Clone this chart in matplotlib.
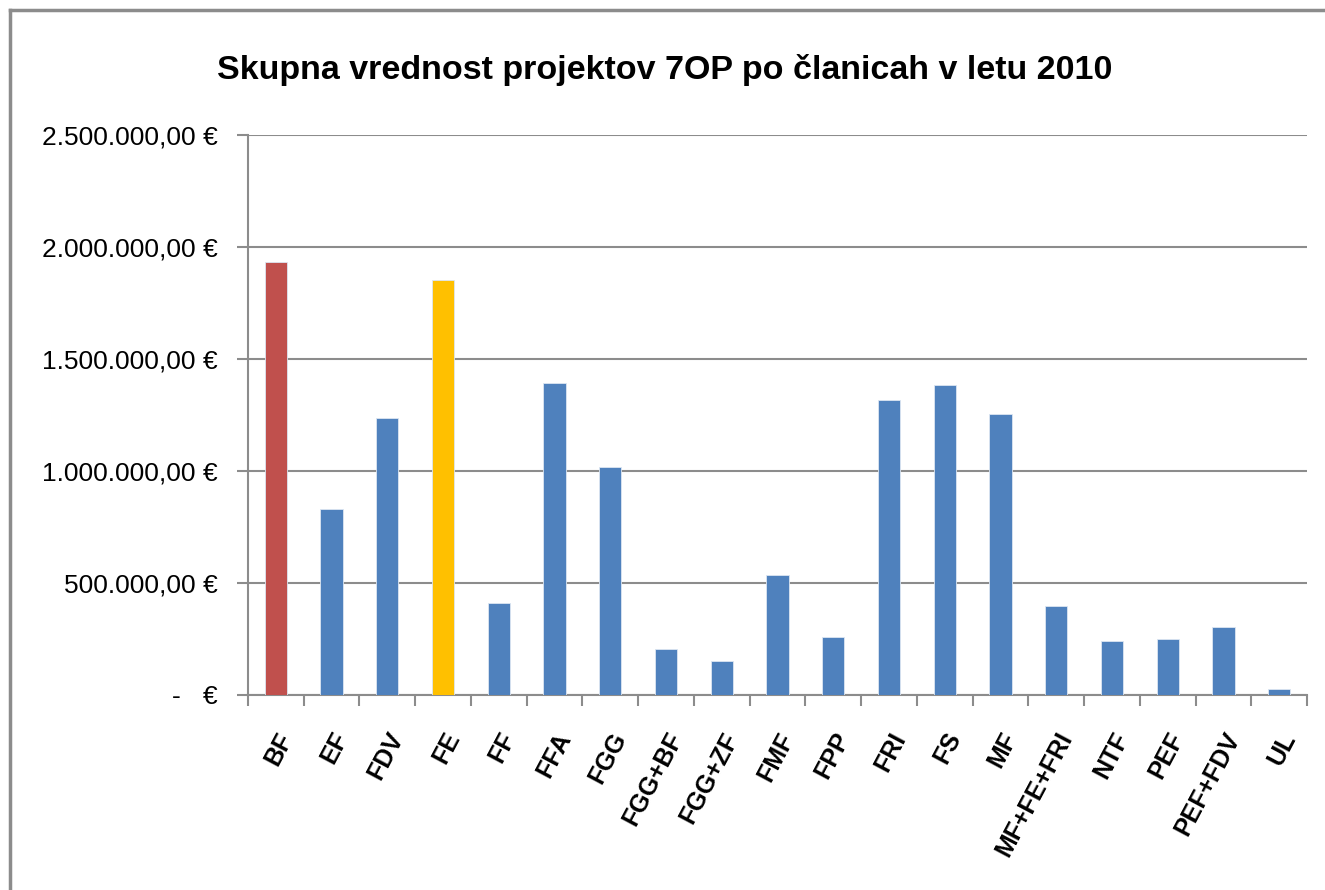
import matplotlib
matplotlib.use("Agg")
import matplotlib.pyplot as plt
from matplotlib.lines import Line2D
from matplotlib.ticker import FixedLocator, FuncFormatter

# values in EUR
clanice = ["BF", "EF", "FDV", "FE", "FF", "FFA", "FGG", "FGG+BF", "FGG+ZF", "FMF",
           "FPP", "FRI", "FS", "MF", "MF+FE+FRI", "NTF", "PEF", "PEF+FDV", "UL"]
vrednosti = [1933000, 830000, 1237000, 1853000, 411000, 1393000, 1018000, 204000, 153000,
             536000, 260000, 1318000, 1385000, 1256000, 397000, 240000, 249000, 304000, 25000]
poudarki = {"BF": "#C0504D", "FE": "#FFC000"}
osnovna_barva = "#4F81BD"
y_ticks = [0, 500000, 1000000, 1500000, 2000000, 2500000]

plt.rcParams["font.family"] = ["Liberation Sans", "DejaVu Sans"]

W, H = 1325, 890
fig = plt.figure(figsize=(W / 100, H / 100), dpi=100)
ax = fig.add_axes([248 / W, (H - 695) / H, 1059 / W, 560 / H])

colors = [poudarki.get(c, osnovna_barva) for c in clanice]
x = range(len(clanice))
ax.bar(x, vrednosti, width=0.4, color=colors, edgecolor="#dce6f2", linewidth=0.6, zorder=3)

ax.set_xlim(-0.5, len(clanice) - 0.5)
ax.set_ylim(0, 2500000)

grid_col = "#8c8c8c"
ax.yaxis.set_major_locator(FixedLocator(y_ticks))
ax.yaxis.grid(True, color=grid_col, linewidth=1.5, zorder=0)
for s in ("top", "right"):
    ax.spines[s].set_visible(False)
for s in ("left", "bottom"):
    ax.spines[s].set_color(grid_col)
    ax.spines[s].set_linewidth(1.5)


def eur(v, _pos):
    if v == 0:
        return "-   €"
    s = f"{v:,.2f}".replace(",", "X").replace(".", ",").replace("X", ".")
    return s + " €"


ax.yaxis.set_major_formatter(FuncFormatter(eur))
ax.tick_params(axis="y", length=8, width=1.5, color=grid_col, pad=14, labelsize=19)

ax.set_xticks(list(x))
ax.set_xticklabels(clanice, rotation=62, ha="right", rotation_mode="anchor",
                   fontsize=18, fontweight="bold")
ax.tick_params(axis="x", which="major", length=0, pad=24)
ax.set_xticks([i - 0.5 for i in range(len(clanice) + 1)], minor=True)
ax.tick_params(axis="x", which="minor", length=8, width=1.5, color=grid_col)

fig.text(665 / W, 1 - 70 / H, "Skupna vrednost projektov 7OP po članicah v letu 2010",
         ha="center", va="center", fontsize=24.5, fontweight="bold")

# outer chart frame (partly cropped in the original)
fig.add_artist(Line2D([10 / W, 10 / W], [0, 1 - 10 / H], transform=fig.transFigure,
                      color="#8c8c8c", linewidth=2.5))
fig.add_artist(Line2D([10 / W, 1], [1 - 10 / H, 1 - 10 / H], transform=fig.transFigure,
                      color="#8c8c8c", linewidth=2.5))

fig.savefig("out.png", dpi=100)
plt.close(fig)
